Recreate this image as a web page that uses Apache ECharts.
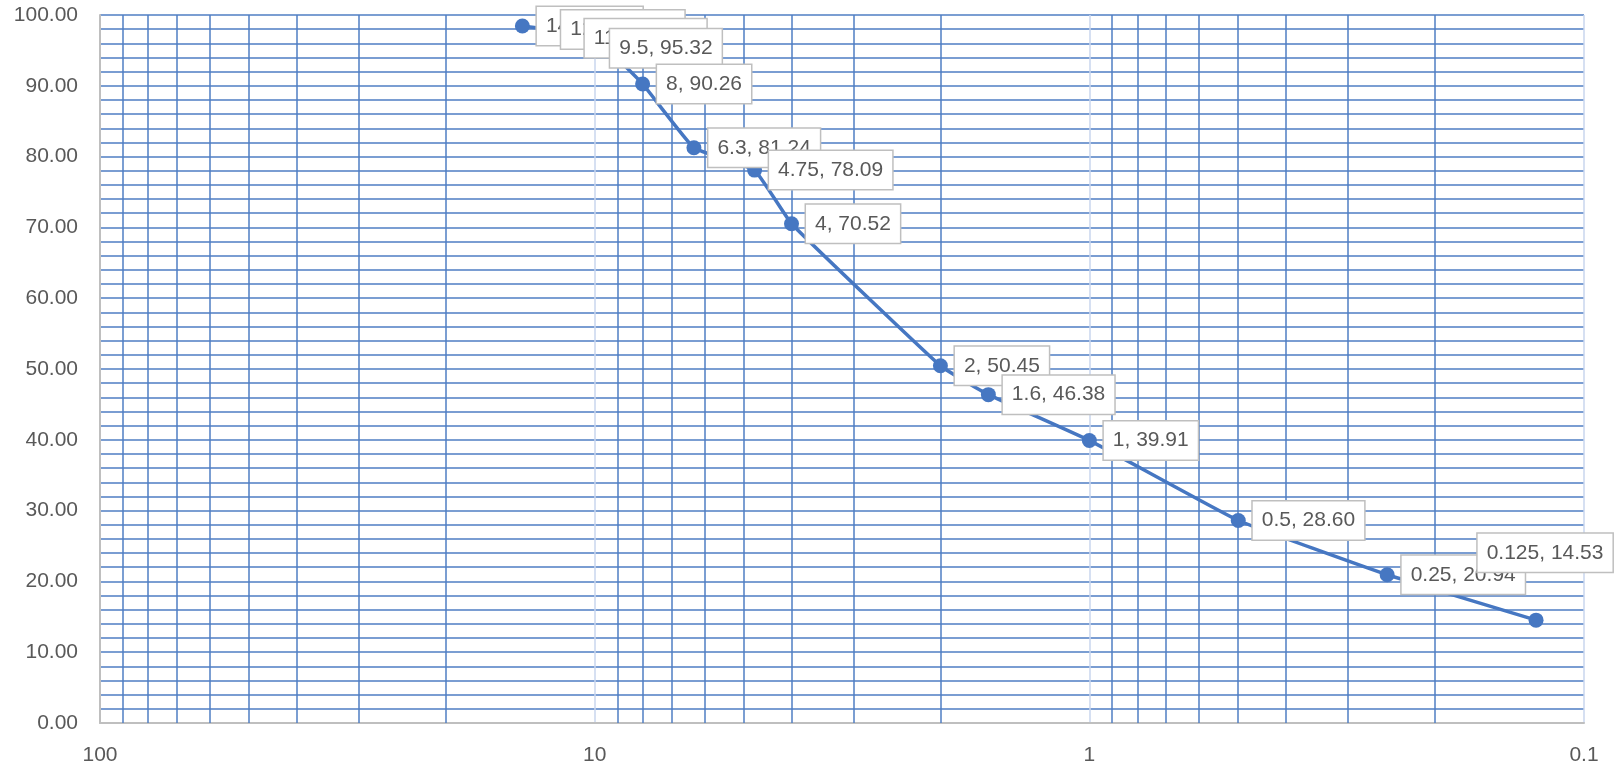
<!DOCTYPE html>
<html>
<head>
<meta charset="utf-8">
<script src="https://cdn.jsdelivr.net/npm/echarts@6/dist/echarts.min.js"></script>
<style>
html,body{margin:0;padding:0;background:#fff;}
#chart{width:1619px;height:769px;}
</style>
</head>
<body>
<div id="chart"></div>
<script>
// Data
var sizes   = [14, 12.5, 11.2, 9.5, 8, 6.3, 4.75, 4, 2, 1.6, 1, 0.5, 0.25, 0.125];
var passing = [98.45, 97.96, 96.7, 95.32, 90.26, 81.24, 78.09, 70.52, 50.45, 46.38, 39.91, 28.60, 20.94, 14.53];
var xTickValues = [100, 10, 1, 0.1];
var xTickLabels = ['100', '10', '1', '0.1'];
var xMinorGrid = [90, 80, 70, 60, 50, 40, 30, 20, 9, 8, 7, 6, 5, 4, 3, 2, 0.9, 0.8, 0.7, 0.6, 0.5, 0.4, 0.3, 0.2];

var FONT = 'Liberation Sans';
var BLUE = '#4677c2';
var GRID = '#4f7ec3';

var points = sizes.map(function (s, i) {
  var d = { value: [s, passing[i]] };
  if (i === sizes.length - 1) {
    d.label = { position: 'top', distance: 41, offset: [9, 0] };
  }
  if (i === 3) {
    d.label = { offset: [-10, 0] };
  }
  return d;
});

var chart = echarts.init(document.getElementById('chart'));
chart.setOption({
  animation: false,
  backgroundColor: '#ffffff',
  grid: { left: 100, right: 35, top: 15, bottom: 46, containLabel: false },
  xAxis: {
    type: 'log',
    logBase: 10,
    min: 0.1,
    max: 100,
    inverse: true,
    axisLine: { show: true, onZero: false, lineStyle: { color: '#bfbfbf', width: 2 } },
    axisTick: { show: false },
    axisLabel: {
      margin: 22,
      fontFamily: FONT,
      fontSize: 21,
      color: '#595959',
      formatter: function (v) {
        for (var i = 0; i < xTickValues.length; i++) {
          if (Math.abs(v - xTickValues[i]) < 1e-9 * Math.max(1, v)) return xTickLabels[i];
        }
        return '';
      }
    },
    splitLine: { show: true, lineStyle: { color: '#c8d6ee', width: 1.5 } },
    minorTick: { show: false },
    minorSplitLine: { show: false }
  },
  yAxis: {
    type: 'value',
    min: 0,
    max: 100,
    interval: 10,
    axisLine: { show: true, onZero: false, lineStyle: { color: '#bfbfbf', width: 2 } },
    axisTick: { show: false },
    axisLabel: {
      margin: 22,
      fontFamily: FONT,
      fontSize: 21,
      color: '#595959',
      formatter: function (v) { return v.toFixed(2); }
    },
    splitLine: { show: true, lineStyle: { color: GRID, width: 1.5 } },
    minorTick: { show: false, splitNumber: 5 },
    minorSplitLine: { show: true, lineStyle: { color: GRID, width: 1.5 } }
  },
  series: [
    {
      type: 'line',
      z: 1,
      silent: true,
      data: points.map(function (p) { return p.value; }),
      symbol: 'none',
      lineStyle: { opacity: 0 },
      markLine: {
        silent: true,
        symbol: 'none',
        label: { show: false },
        lineStyle: { color: GRID, width: 1.5, type: 'solid' },
        data: xMinorGrid.map(function (v) { return { xAxis: v }; })
      }
    },
    {
      type: 'line',
      z: 5,
      data: points,
      smooth: 0.1,
      symbol: 'circle',
      symbolSize: 15,
      itemStyle: { color: BLUE },
      lineStyle: { color: BLUE, width: 3.5 },
      label: {
        show: true,
        position: 'right',
        distance: 7,
        fontFamily: FONT,
        fontSize: 21,
        lineHeight: 21,
        color: '#595959',
        backgroundColor: '#ffffff',
        borderColor: '#bfbfbf',
        borderWidth: 1.5,
        padding: [9, 9, 8, 9],
        formatter: function (p) {
          return p.value[0] + ', ' + p.value[1].toFixed(2);
        }
      }
    }
  ]
});
</script>
</body>
</html>
